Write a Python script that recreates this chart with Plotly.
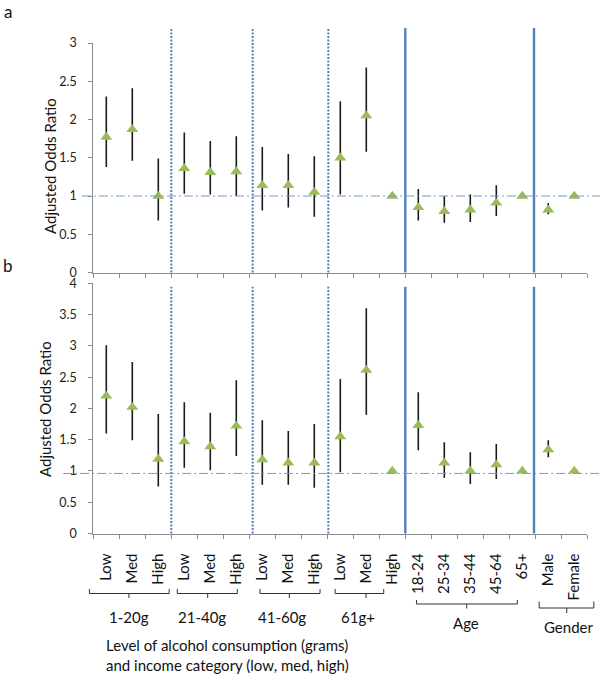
import plotly.graph_objects as go

# ---------------- data ----------------
categories = ["Low", "Med", "High", "Low", "Med", "High", "Low", "Med", "High",
              "Low", "Med", "High", "18-24", "25-34", "35-44", "45-64", "65+",
              "Male", "Female"]

# panel a
a_or = [1.77, 1.87, 1.00, 1.36, 1.31, 1.32, 1.14, 1.14, 1.05, 1.50, 2.05, 1.00,
        0.85, 0.80, 0.82, 0.91, 1.00, 0.82, 1.00]
a_hi = [2.30, 2.41, 1.49, 1.83, 1.72, 1.78, 1.64, 1.55, 1.52, 2.24, 2.68, 1.00,
        1.09, 1.00, 1.02, 1.14, 1.00, 0.91, 1.00]
a_lo = [1.38, 1.46, 0.68, 1.03, 1.02, 1.00, 0.81, 0.85, 0.73, 1.02, 1.58, 1.00,
        0.68, 0.65, 0.66, 0.74, 1.00, 0.76, 1.00]

# panel b
b_or = [2.20, 2.02, 1.19, 1.47, 1.39, 1.72, 1.18, 1.13, 1.13, 1.55, 2.61, 1.00,
        1.73, 1.13, 1.00, 1.10, 1.00, 1.34, 1.00]
b_hi = [3.01, 2.74, 1.91, 2.10, 1.93, 2.45, 1.81, 1.64, 1.75, 2.47, 3.60, 1.00,
        2.26, 1.46, 1.30, 1.43, 1.00, 1.49, 1.00]
b_lo = [1.60, 1.49, 0.75, 1.05, 1.01, 1.24, 0.78, 0.78, 0.73, 0.98, 1.90, 1.00,
        1.33, 0.89, 0.79, 0.87, 1.00, 1.22, 1.00]

# group labels: (label, first category index, last category index)
groups = [("1-20g", 0, 2), ("21-40g", 3, 5), ("41-60g", 6, 8), ("61g+", 9, 11),
          ("Age", 12, 16), ("Gender", 17, 18)]

# ---------------- styles / geometry ----------------
W, H = 600, 677
FONT = "Lato, 'Open Sans', sans-serif"
GREEN = "#9BBB59"
BLUE = "#4F81BD"
AXC = "#8c8c8c"
n = len(categories)
xs = list(range(n))
XMIN, XMAX = -0.5, n - 0.5

def px_y(p):
    return 1 - p / H

xdom = [93.3 / W, 587.3 / W]
ydom_a = [px_y(272.5), px_y(43)]
ydom_b = [px_y(533.5), px_y(283.3)]

def xfrac(c):
    return (c - XMIN) / (XMAX - XMIN)

fig = go.Figure()

def add_panel(vals, hi, lo, xa, ya):
    fig.add_trace(go.Scatter(
        x=xs, y=vals, xaxis=xa, yaxis=ya, mode="markers",
        marker=dict(symbol="triangle-up", size=10.5, color=GREEN),
        error_y=dict(type="data", symmetric=False,
                     array=[h - v for h, v in zip(hi, vals)],
                     arrayminus=[v - l for v, l in zip(vals, lo)],
                     color="#1a1a1a", thickness=1.6, width=0),
        showlegend=False, hoverinfo="skip"))

add_panel(a_or, a_hi, a_lo, "x", "y")
add_panel(b_or, b_hi, b_lo, "x2", "y2")

boundaries = [k - 0.5 for k in range(n + 1)]
common_x = dict(range=[XMIN, XMAX], domain=xdom, showgrid=False, zeroline=False,
                showline=True, linecolor=AXC, linewidth=1, automargin=False)
common_y = dict(showgrid=False, zeroline=False, showline=True, linecolor=AXC,
                linewidth=1, ticks="outside", ticklen=4, tickcolor=AXC,
                dtick=0.5, tick0=0, ticklabelstandoff=9, automargin=False,
                tickfont=dict(family=FONT, size=12.5, color="#222"))

fig.update_layout(
    width=W, height=H, margin=dict(l=0, r=0, t=0, b=0, pad=0, autoexpand=False),
    paper_bgcolor="white", plot_bgcolor="white",
    xaxis=dict(**common_x, anchor="y", tickmode="array", tickvals=boundaries,
               ticks="outside", ticklen=4, tickcolor=AXC, showticklabels=False),
    yaxis=dict(**common_y, domain=ydom_a, range=[0, 3], anchor="x"),
    xaxis2=dict(**common_x, anchor="y2", tickmode="array", tickvals=xs,
                ticktext=categories, ticks="", tickangle=-90,
                ticklabelstandoff=13,
                tickfont=dict(family=FONT, size=15, color="#111"),
                minor=dict(tickmode="array", tickvals=boundaries, ticks="outside",
                           ticklen=4, tickcolor=AXC, tickwidth=1)),
    yaxis2=dict(**common_y, domain=ydom_b, range=[0, 4], anchor="x2"),
)

shapes = []
# separators
dotted = [2.5, 5.63, 8.54]
solid = [11.5, 16.45]
for xr, yr, y0, y1 in [("x", "y domain", 0, 1.065), ("x2", "y2 domain", 0, 0.986)]:
    for xv in dotted:
        shapes.append(dict(type="line", xref=xr, yref=yr, x0=xv, x1=xv, y0=y0, y1=y1,
                           line=dict(color=BLUE, width=2, dash="2px,1.5px")))
    for xv in solid:
        shapes.append(dict(type="line", xref=xr, yref=yr, x0=xv, x1=xv, y0=y0, y1=y1,
                           line=dict(color=BLUE, width=2.4)))
# reference lines (dash-dot)
shapes.append(dict(type="line", xref="x domain", yref="y", x0=-0.023, x1=1.03,
                   y0=1, y1=1, line=dict(color="#6f9bd1", width=1, dash="9px,3px,2px,3px")))
shapes.append(dict(type="line", xref="x2 domain", yref="y2", x0=-0.061, x1=1.03,
                   y0=0.96, y1=0.96, line=dict(color="#6f9bd1", width=1, dash="9px,3px,2px,3px")))

# brackets (category-space extents, pixel-space vertical levels)
bracket_geom = [(-0.65, 2.42, 0.87, 589, 593.5, 598),
                (2.73, 5.04, 3.90, 589, 593.5, 598),
                (5.91, 8.22, 7.04, 589, 593.5, 598),
                (8.80, 10.67, 9.99, 589, 593.5, 598),
                (11.93, 15.81, 13.86, 600, 604, 608.5),
                (16.65, 18.75, 17.71, 601.5, 608, 613)]
for (x0, x1, xm, yt, yh, yb) in bracket_geom:
    fx0, fx1, fxm = xfrac(x0), xfrac(x1), xfrac(xm)
    pt, ph, pb = px_y(yt), px_y(yh), px_y(yb)
    path = (f"M{fx0},{pt} L{fx0},{ph} L{fx1},{ph} L{fx1},{pt} "
            f"M{fxm},{ph} L{fxm},{pb}")
    shapes.append(dict(type="path", xref="x2 domain", yref="paper", path=path,
                       line=dict(color="#333", width=1)))
fig.update_layout(shapes=shapes)

ann = []
label_pos = [(0.87, 617.3), (3.67, 617), (6.75, 617), (9.69, 617),
             (13.82, 623.3), (17.77, 627.3)]
for (g, _, _), (gx, gy) in zip(groups, label_pos):
    ann.append(dict(text=g, xref="x2", yref="paper", x=gx, y=px_y(gy),
                    xanchor="center", yanchor="middle", showarrow=False,
                    font=dict(family=FONT, size=15, color="#111")))
ann.append(dict(text="Level of alcohol consumption (grams)<br>and income category (low, med, high)",
                xref="paper", yref="paper", x=104 / W, y=px_y(655), xanchor="left",
                yanchor="middle", align="left", showarrow=False,
                font=dict(family=FONT, size=15, color="#111")))
ann.append(dict(text="Adjusted Odds Ratio", xref="paper", yref="paper", x=50 / W,
                y=px_y(166), textangle=-90, showarrow=False, xanchor="center",
                yanchor="middle", font=dict(family=FONT, size=15, color="#111")))
ann.append(dict(text="Adjusted Odds Ratio", xref="paper", yref="paper", x=45 / W,
                y=px_y(409), textangle=-90, showarrow=False, xanchor="center",
                yanchor="middle", font=dict(family=FONT, size=15, color="#111")))
ann.append(dict(text="a", xref="paper", yref="paper", x=8 / W, y=1,
                showarrow=False, xanchor="center", yanchor="top", borderpad=0,
                font=dict(family=FONT, size=17, color="#111")))
ann.append(dict(text="b", xref="paper", yref="paper", x=8 / W, y=px_y(265),
                showarrow=False, xanchor="center", yanchor="middle",
                font=dict(family=FONT, size=17, color="#111")))
fig.update_layout(annotations=ann)

fig.write_html("out.html", config={"displayModeBar": False},
               post_script="document.body.style.margin='0';"
                           "document.body.style.overflow='hidden';")
